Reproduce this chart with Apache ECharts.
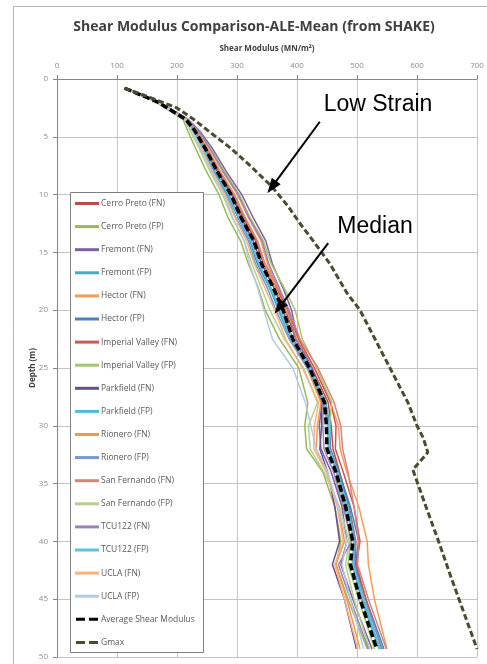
<!DOCTYPE html>
<html>
<head>
<meta charset="utf-8">
<script src="https://cdn.jsdelivr.net/npm/echarts@6/dist/echarts.min.js"></script>
<style>
  html, body { margin: 0; padding: 0; background: #ffffff; }
  #chart { width: 487px; height: 664px; }
</style>
</head>
<body>
<div id="chart"></div>
<script>
// Depths (m) at which each ground motion's shear modulus profile is reported
const depths = [0.8, 2, 3.5, 4.5, 6, 8, 10, 12, 14, 16, 18, 20, 22.5, 25, 28, 30, 32, 34, 37, 40, 42, 45, 49.3];

// Shear modulus (MN/m²) per record, same depth order as above
const cerroPrietoFN   = [113,168,216,232,250,271,295,312,332,346,364,381,398,425,452,457,460,471,487,498,497,511,537];
const cerroPrietoFP   = [113,165,210,218,231,249,270,285,306,319,335,347,371,403,418,413,416,443,463,473,465,485,517];
const fremontFN       = [113,170,219,238,259,282,308,327,348,359,376,391,401,425,442,437,440,457,475,483,473,493,525];
const fremontFP       = [113,168,215,227,243,262,284,302,322,336,354,369,389,419,448,455,455,469,486,497,493,508,538];
const hectorFN        = [113,169,218,235,254,276,301,319,340,351,368,383,401,429,456,469,472,483,503,517,519,529,550];
const hectorFP        = [113,168,214,228,244,263,286,302,322,334,354,371,394,421,448,453,456,470,489,503,497,515,545];
const imperialFN      = [113,168,216,231,249,270,293,310,331,344,365,385,403,429,456,465,464,477,495,505,499,515,541];
const imperialFP      = [113,169,217,236,256,279,304,322,344,357,378,397,409,433,458,454,453,465,479,489,485,503,529];
const parkfieldFN     = [113,168,215,230,246,267,291,307,327,341,361,377,391,418,441,441,438,451,463,471,459,479,499];
const parkfieldFP     = [113,168,215,229,245,264,287,304,324,337,356,373,390,417,444,451,453,467,481,495,492,507,537];
const rioneroFN       = [113,168,216,233,251,272,296,314,334,346,364,380,391,417,440,434,432,449,469,479,465,483,505];
const rioneroFP       = [113,168,215,226,241,259,282,298,319,331,350,365,387,417,446,452,452,466,483,497,495,512,543];
const sanFernandoFN   = [113,168,216,232,250,271,295,313,334,347,368,387,405,435,462,473,476,485,495,503,501,519,549];
const sanFernandoFP   = [113,167,212,222,237,255,276,292,312,325,340,355,379,411,434,419,422,445,471,487,481,495,521];
const tcu122FN        = [113,169,217,236,255,277,302,320,342,353,370,386,398,423,444,443,445,461,477,491,469,489,519];
const tcu122FP        = [113,168,215,228,244,264,286,303,323,336,355,372,391,422,448,452,454,468,483,495,493,511,539];
const uclaFN          = [113,168,215,225,241,259,280,297,316,329,346,363,381,409,436,429,428,449,467,477,463,479,501];
const uclaFP          = [113,167,213,225,239,257,278,293,312,321,334,345,359,393,414,423,432,451,469,483,475,489,511];

// Average of all records
const averageModulus  = [113,168,215,230,247,267,290,307,328,341,360,377,393,421,446,449,450,465,481,493,489,505,533];

// Low-strain (Gmax) profile
const gmaxDepths = [0.8, 1.5, 2.5, 3.5, 4.6, 6, 7.5, 9.3, 11, 12.5, 14, 16, 18.5, 20, 22, 25.5, 28, 30, 31, 32.3, 33.8, 37, 40, 43, 46, 49.3];
const gmaxValues = [112, 150, 200, 228, 255, 290, 322, 358, 385, 405, 427, 455, 483, 505, 525, 560, 585, 600, 610, 618, 593, 615, 636, 656, 677, 700];

// Axis ticks
const xTicks = [0, 100, 200, 300, 400, 500, 600, 700];
const yTicks = [0, 5, 10, 15, 20, 25, 30, 35, 40, 45, 50];

const records = [
  { name: 'Cerro Preto (FN)',      values: cerroPrietoFN, color: '#be4b48' },
  { name: 'Cerro Preto (FP)',      values: cerroPrietoFP, color: '#98b954' },
  { name: 'Fremont (FN)',          values: fremontFN,     color: '#7d60a0' },
  { name: 'Fremont (FP)',          values: fremontFP,     color: '#46aac5' },
  { name: 'Hector (FN)',           values: hectorFN,      color: '#f59d56' },
  { name: 'Hector (FP)',           values: hectorFP,      color: '#4f81bd' },
  { name: 'Imperial Valley (FN)',  values: imperialFN,    color: '#d55450' },
  { name: 'Imperial Valley (FP)',  values: imperialFP,    color: '#a5c86a' },
  { name: 'Parkfield (FN)',        values: parkfieldFN,   color: '#6a4c93' },
  { name: 'Parkfield (FP)',        values: parkfieldFP,   color: '#4fbcd8' },
  { name: 'Rionero (FN)',          values: rioneroFN,     color: '#f79646' },
  { name: 'Rionero (FP)',          values: rioneroFP,     color: '#7399d0' },
  { name: 'San Fernando (FN)',     values: sanFernandoFN, color: '#d9837f' },
  { name: 'San Fernando (FP)',     values: sanFernandoFP, color: '#b6d08c' },
  { name: 'TCU122 (FN)',           values: tcu122FN,      color: '#9884bd' },
  { name: 'TCU122 (FP)',           values: tcu122FP,      color: '#5ec3dc' },
  { name: 'UCLA (FN)',             values: uclaFN,        color: '#f9b27c' },
  { name: 'UCLA (FP)',             values: uclaFP,        color: '#b4c9e4' }
];

const pairs = (vals, ds) => vals.map((v, i) => [v, ds[i]]);

const series = records.map(r => ({
  name: r.name,
  type: 'line',
  data: pairs(r.values, depths),
  showSymbol: false,
  symbol: 'none',
  lineStyle: { color: r.color, width: 1.5 },
  itemStyle: { color: r.color },
  z: 2
}));

series.push({
  name: 'Average Shear Modulus',
  type: 'line',
  data: pairs(averageModulus, depths),
  symbol: 'none',
  lineStyle: { color: '#000000', width: 3.5, type: [7, 3] },
  itemStyle: { color: '#000000' },
  z: 3
});

series.push({
  name: 'Gmax',
  type: 'line',
  data: pairs(gmaxValues, gmaxDepths),
  symbol: 'none',
  lineStyle: { color: '#4b4b30', width: 3, type: [6, 3] },
  itemStyle: { color: '#4b4b30' },
  z: 3,
  markLine: {
    silent: true,
    animation: false,
    symbol: ['none', 'triangle'],
    symbolSize: [11, 15],
    lineStyle: { color: '#000000', width: 2, type: 'solid' },
    label: { show: false },
    data: [
      [{ coord: [438, 3.7] }, { coord: [358, 9.35] }],
      [{ coord: [452, 14.2] }, { coord: [370, 19.8] }]
    ]
  },
  markPoint: {
    silent: true,
    animation: false,
    symbol: 'rect',
    symbolSize: 1,
    itemStyle: { color: 'rgba(0,0,0,0)' },
    label: {
      show: true,
      position: 'inside',
      fontFamily: 'Liberation Sans',
      fontSize: 23,
      color: '#000000',
      formatter: p => p.name
    },
    data: [
      { name: 'Low Strain', coord: [535, 2.2] },
      { name: 'Median', coord: [530, 12.8] }
    ]
  }
});

// Legend swatches: solid bars for records, two dashes for the dashed profiles
const dashIcon = 'path://M0,0h9v3h-9z M13,0h9v3h-9z';
const legendData = records.map(r => ({ name: r.name, icon: 'rect' }))
  .concat([{ name: 'Average Shear Modulus', icon: dashIcon }, { name: 'Gmax', icon: dashIcon }]);

const chart = echarts.init(document.getElementById('chart'), null, { renderer: 'canvas' });

chart.setOption({
  animation: false,
  backgroundColor: '#ffffff',
  textStyle: { fontFamily: 'Open Sans' },
  title: {
    text: 'Shear Modulus Comparison-ALE-Mean (from SHAKE)',
    left: 249,
    top: 15,
    textAlign: 'center',
    textStyle: { fontFamily: 'Open Sans', fontWeight: 'bold', fontSize: 14, color: '#404040' }
  },
  graphic: [
    {
      type: 'rect',
      z: -10,
      shape: { x: 13.5, y: 6.5, width: 500, height: 700 },
      style: { fill: 'none', stroke: '#b3b3b3', lineWidth: 1 }
    },
    {
      type: 'rect',
      z: 3,
      shape: { x: 70.5, y: 192.5, width: 133, height: 460 },
      style: { fill: '#ffffff', stroke: '#7f7f7f', lineWidth: 1 }
    }
  ],
  legend: {
    orient: 'vertical',
    left: 70,
    top: 193,
    padding: [6, 5, 6, 5],
    itemWidth: 24,
    itemHeight: 3,
    itemGap: 14.1,
    z: 4,
    textStyle: { fontFamily: 'Open Sans', fontSize: 8.5, color: '#595959', padding: [0, 0, 0, -3] },
    data: legendData
  },
  grid: { left: 57, right: 10, top: 79, bottom: 7 },
  xAxis: {
    type: 'value',
    position: 'top',
    min: xTicks[0],
    max: xTicks[xTicks.length - 1],
    interval: 100,
    name: 'Shear Modulus (MN/m²)',
    nameLocation: 'middle',
    nameGap: 26,
    nameMoveOverlap: false,
    nameTextStyle: { fontFamily: 'Open Sans', fontWeight: 'bold', fontSize: 8, color: '#404040' },
    axisLine: { show: true, lineStyle: { color: '#868686', width: 1 } },
    axisTick: { show: true, length: 4, lineStyle: { color: '#868686' } },
    axisLabel: { fontSize: 8, color: '#8c8c8c', margin: 9, fontFamily: 'Open Sans' },
    splitLine: { show: true, lineStyle: { color: '#c4c4c4', width: 1 } }
  },
  yAxis: {
    type: 'value',
    inverse: true,
    min: yTicks[0],
    max: yTicks[yTicks.length - 1],
    interval: 5,
    name: 'Depth (m)',
    nameLocation: 'middle',
    nameGap: 20,
    nameMoveOverlap: false,
    nameRotate: 90,
    nameTextStyle: { fontFamily: 'Open Sans', fontWeight: 'bold', fontSize: 8, color: '#404040' },
    axisLine: { show: true, lineStyle: { color: '#868686', width: 1 } },
    axisTick: { show: true, length: 4, lineStyle: { color: '#868686' } },
    axisLabel: { fontSize: 8, color: '#8c8c8c', margin: 9, fontFamily: 'Open Sans' },
    splitLine: { show: true, lineStyle: { color: '#c4c4c4', width: 1 } }
  },
  series: series
});
</script>
</body>
</html>
